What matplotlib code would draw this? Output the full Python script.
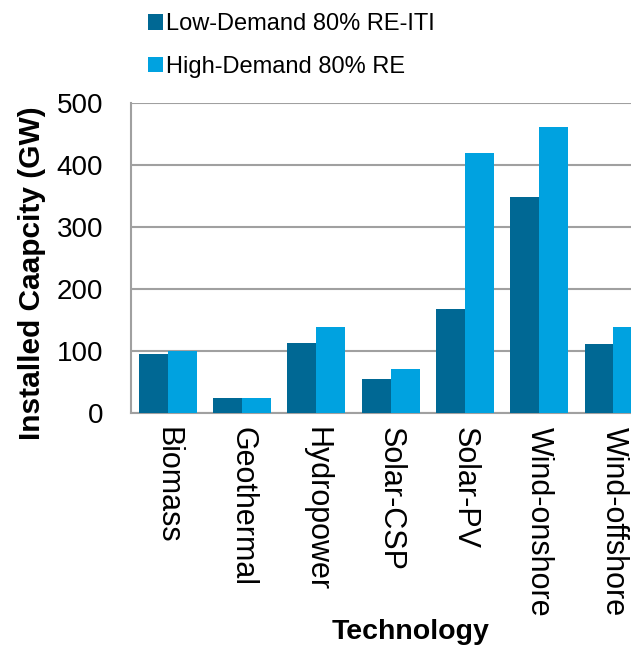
import matplotlib
matplotlib.use("Agg")
import matplotlib.pyplot as plt
import matplotlib.transforms as mtransforms
import numpy as np

plt.rcParams['font.family'] = ['Liberation Sans', 'DejaVu Sans']

# 裝置容量資料 (GW)
technologies = ['Biomass', 'Geothermal', 'Hydropower', 'Solar-CSP',
                'Solar-PV', 'Wind-onshore', 'Wind-offshore']
low_demand = [95, 24, 113, 54, 167, 348, 111]
high_demand = [99, 24, 139, 71, 419, 461, 139]
series_names = ['Low-Demand 80% RE-ITI', 'High-Demand 80% RE']

dark_blue = '#006894'
light_blue = '#00A2E0'

fig = plt.figure(figsize=(6.31, 6.45), dpi=100)
# 繪圖區右側超出畫面
ax = fig.add_axes([0.2071, 0.3602, 0.824, 0.4797])

x = np.arange(len(technologies))
w = 0.39
ax.bar(x - w / 2, low_demand, w, color=dark_blue, label=series_names[0], zorder=3)
ax.bar(x + w / 2, high_demand, w, color=light_blue, label=series_names[1], zorder=3)

ax.set_xlim(-0.5, 6.5)
ax.set_ylim(0, 500)
ax.set_yticks([0, 100, 200, 300, 400, 500])
ax.yaxis.grid(True, color='#A0A0A0', linewidth=1.5, zorder=0)

for s in ['top', 'right']:
    ax.spines[s].set_visible(False)
for s in ['left', 'bottom']:
    ax.spines[s].set_color('#A0A0A0')
    ax.spines[s].set_linewidth(1.5)

ax.set_xticks(x)
ax.set_xticklabels(technologies, rotation=270, fontsize=22, va='top', ha='center')
# 類別標籤稍微往左移
shift = mtransforms.ScaledTranslation(-5 / 100, 0, fig.dpi_scale_trans)
for lbl in ax.get_xticklabels():
    lbl.set_transform(lbl.get_transform() + shift)
ax.tick_params(axis='x', length=0, pad=10)
ax.tick_params(axis='y', length=0, pad=20, labelsize=20)

ax.set_ylabel('Installed Caapcity (GW)', fontsize=21.5, fontweight='bold')
ax.yaxis.set_label_coords(-0.162, 0.45)
ax.set_xlabel('Technology', fontsize=20.5, fontweight='bold')
ax.xaxis.set_label_coords(0.539, -0.668)

fig.legend(loc='upper left', bbox_to_anchor=(0.2197, 0.994), frameon=False,
           fontsize=17, handlelength=0.64, handleheight=0.64,
           handletextpad=0.13, labelspacing=0.86, borderaxespad=0)

fig.savefig('out.png', dpi=100)
